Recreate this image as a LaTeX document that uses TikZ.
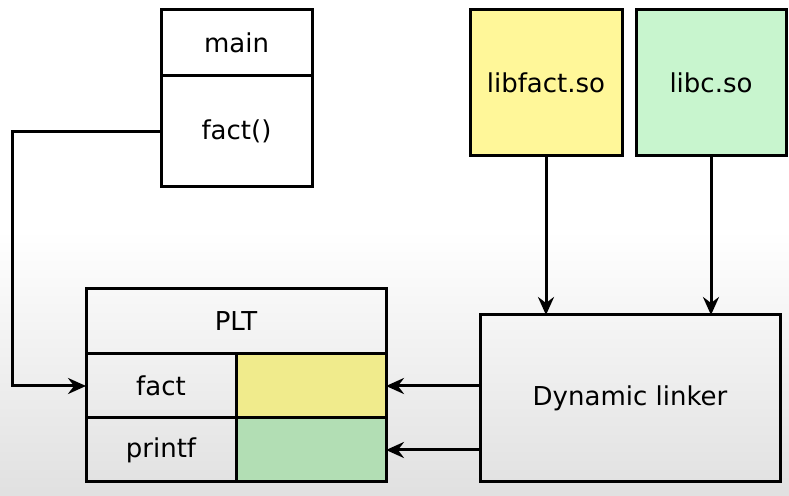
\documentclass[tikz,border=0pt]{standalone}
\usepackage{fontspec}
\setmainfont{DejaVu Sans}
\usetikzlibrary{positioning,arrows.meta}
\definecolor{libyellow}{RGB}{255,247,153}
\definecolor{libgreen}{RGB}{200,245,206}
\definecolor{slotyellow}{RGB}{240,235,140}
\definecolor{slotgreen}{RGB}{178,222,180}

\begin{document}
\begin{tikzpicture}[x=0.5pt, y=-0.5pt, >={Stealth[length=9pt, width=8pt, inset=3pt]},
  cell/.style={draw, rectangle, line width=1.5pt, inner sep=0pt, outer sep=0pt,
    font=\fontsize{13}{15}\selectfont},
  link/.style={->, line width=1.5pt}]

  % screen background
  \useasboundingbox (0,0) rectangle (789,496);
  \fill[white] (0,0) rectangle (789,230);
  \shade[top color=white, bottom color=black!12] (0,230) rectangle (789,496);

  % caller
  \node[cell, minimum width=75.5pt, minimum height=33pt] (mainhd) at (236.5,43) {main};
  \node[cell, minimum width=75.5pt, minimum height=55.5pt, below=0pt of mainhd] (callf) {fact()};

  % shared libraries
  \node[cell, fill=libyellow, minimum width=76pt, minimum height=73pt] (libfact) at (546,83) {libfact.so};
  \node[cell, fill=libgreen, minimum width=75pt, minimum height=73pt] (libc) at (711,83) {libc.so};

  % PLT
  \node[cell, minimum width=150pt, minimum height=32.5pt] (plt) at (236,321.5) {PLT};
  \node[cell, minimum width=75pt, minimum height=32pt, anchor=north west] (factname) at (plt.south west) {fact};
  \node[cell, fill=slotyellow, minimum width=75pt, minimum height=32pt, right=0pt of factname] (factslot) {};
  \node[cell, minimum width=75pt, minimum height=32pt, below=0pt of factname] (printfname) {printf};
  \node[cell, fill=slotgreen, minimum width=75pt, minimum height=32pt, right=0pt of printfname] (printfslot) {};

  \node[cell, minimum width=150pt, minimum height=83.5pt] (linker) at (630,398.5) {Dynamic linker};

  \coordinate (turn) at (12,132);

  \draw[link] (callf.west) -- (callf.west -| turn) |- (factname.west);
  \draw[link] (libfact) -- (libfact |- linker.north);
  \draw[link] (libc) -- (libc |- linker.north);
  \draw[link] (linker.west |- factslot) -- (factslot);
  \draw[link] (linker.west |- printfslot) -- (printfslot);
\end{tikzpicture}
\end{document}
